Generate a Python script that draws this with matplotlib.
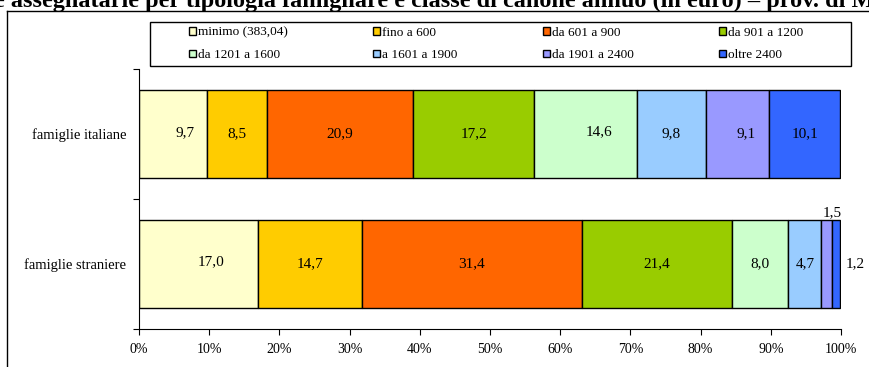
import matplotlib
matplotlib.use("Agg")
import matplotlib.pyplot as plt
from matplotlib.patches import Patch, Rectangle
from matplotlib.lines import Line2D

plt.rcParams['font.family'] = ['Liberation Serif', 'DejaVu Serif']

# Data: share of households by annual rent class (in euro)
categories = ["famiglie italiane", "famiglie straniere"]
classes = ["minimo (383,04)", "fino a 600", "da 601 a 900", "da 901 a 1200",
           "da 1201 a 1600", "a 1601 a 1900", "da 1901 a 2400", "oltre 2400"]
italiane = [9.7, 8.5, 20.9, 17.2, 14.6, 9.8, 9.1, 10.1]
straniere = [17.0, 14.7, 31.4, 21.4, 8.0, 4.7, 1.5, 1.2]
xtick_values = [0, 10, 20, 30, 40, 50, 60, 70, 80, 90, 100]

colors = ["#FFFFCC", "#FFCC00", "#FF6600", "#99CC00",
          "#CCFFCC", "#99CCFF", "#9999FF", "#3366FF"]

W, H = 869, 367
fig = plt.figure(figsize=(W / 100, H / 100), dpi=100)

# axes placement in pixels
ax_l, ax_r, ax_t, ax_b = 139, 841, 69, 329
ax = fig.add_axes([ax_l / W, 1 - ax_b / H, (ax_r - ax_l) / W, (ax_b - ax_t) / H])

rows = [italiane, straniere]
ypos = [1.5, 0.5]
bar_h = 0.67

# per-label nudges (points) for labels that sit off-centre
nudges = {(0, 0): (9, 1), (0, 4): (10, 2), (0, 6): (6, 0), (1, 0): (9, 2)}

for r, (vals, y) in enumerate(zip(rows, ypos)):
    left = 0.0
    for i, v in enumerate(vals):
        ax.barh(y, v, left=left, height=bar_h, color=colors[i],
                edgecolor="black", linewidth=1.0, zorder=2)
        txt = f"{v:.1f}".replace(".", ",")
        cx = left + v / 2
        if r == 1 and i == 6:
            ax.annotate(txt, (cx, y + bar_h / 2), xytext=(4, 1),
                        textcoords="offset points", ha="center", va="bottom",
                        fontsize=11)
        elif r == 1 and i == 7:
            ax.annotate(txt, (left + v, y), xytext=(4, 0),
                        textcoords="offset points", ha="left", va="center",
                        fontsize=11)
        else:
            dx, dy = nudges.get((r, i), (0, 0))
            ax.annotate(txt, (cx, y), xytext=(dx, dy),
                        textcoords="offset points", ha="center", va="center",
                        fontsize=11)
        left += v

ax.set_xlim(0, 100)
ax.set_ylim(0, 2)
ax.set_xticks(xtick_values)
ax.set_xticklabels([f"{t}%" for t in xtick_values], fontsize=10)
ax.set_yticks([0, 1, 2])
ax.set_yticklabels([])
ax.set_yticks(ypos, minor=True)
ax.set_yticklabels(categories, minor=True, fontsize=10.5)
ax.tick_params(axis="y", which="minor", length=0, pad=9)
ax.tick_params(axis="y", which="major", length=4, width=0.8, direction="out")
ax.tick_params(axis="x", length=4, width=0.8, direction="out", pad=6)
for s in ("top", "right"):
    ax.spines[s].set_visible(False)
for s in ("left", "bottom"):
    ax.spines[s].set_linewidth(0.8)
    ax.spines[s].set_color("black")

# outer chart-area frame
fig.add_artist(Line2D([7 / W, 1.0], [1 - 11 / H, 1 - 11 / H],
                      color="black", linewidth=1.0, transform=fig.transFigure))
fig.add_artist(Line2D([7 / W, 7 / W], [1 - 11 / H, 0.0],
                      color="black", linewidth=1.0, transform=fig.transFigure))

# title
fig.text(0.5, 1 - 7 / H,
         "e assegnatarie per tipologia famigliare e classe di canone annuo (in euro) – prov. di M",
         ha="center", va="baseline", fontsize=17.5, fontweight="bold")

# legend box
lx0, lx1, ly0, ly1 = 150, 851, 22, 66
fig.add_artist(Rectangle((lx0 / W, 1 - ly1 / H), (lx1 - lx0) / W, (ly1 - ly0) / H,
                         transform=fig.transFigure, facecolor="white",
                         edgecolor="black", linewidth=1.0, zorder=3))

# legend, laid out row by row
handles = [Patch(facecolor=c, edgecolor="black", linewidth=1.0) for c in colors]
order = [0, 4, 1, 5, 2, 6, 3, 7]
leg = fig.legend([handles[k] for k in order], [classes[k] for k in order],
                 ncol=4, loc="center left",
                 bbox_to_anchor=(189 / W, 1 - 44 / H),
                 fontsize=9.5, frameon=False, borderaxespad=0, borderpad=0,
                 handlelength=0.5, handleheight=0.5, handletextpad=0.15,
                 labelspacing=0.8, columnspacing=6.5)
leg.set_zorder(4)

fig.savefig("out.png", dpi=100)
